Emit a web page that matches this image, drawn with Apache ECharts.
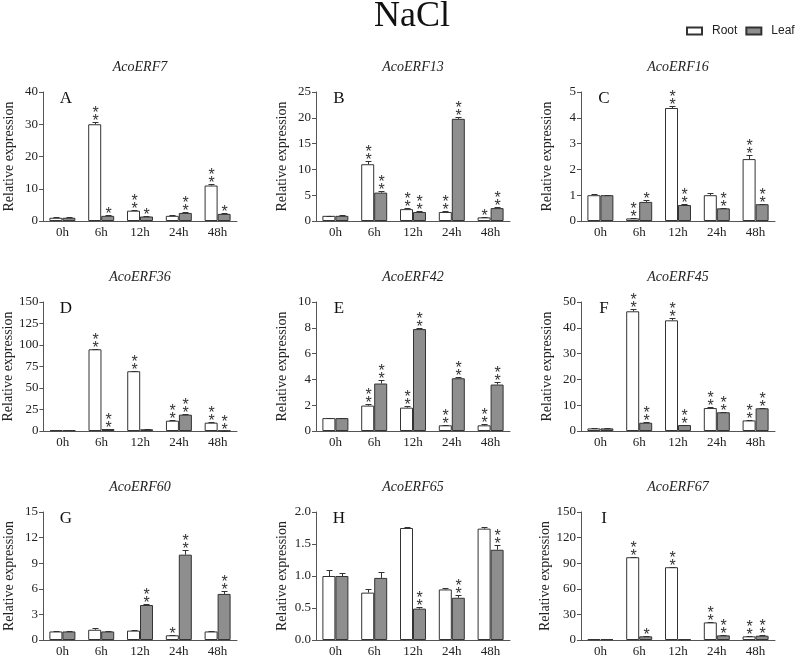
<!DOCTYPE html>
<html>
<head>
<meta charset="utf-8">
<script src="https://cdn.jsdelivr.net/npm/echarts@6/dist/echarts.min.js"></script>
<style>html,body{margin:0;padding:0;background:#fff}#c{width:798px;height:658px}</style>
</head>
<body>
<div id="c"></div>
<script>
const categories = ['0h', '6h', '12h', '24h', '48h'];
const genes = ['AcoERF7', 'AcoERF13', 'AcoERF16', 'AcoERF36', 'AcoERF42', 'AcoERF45', 'AcoERF60', 'AcoERF65', 'AcoERF67'];
const letters = ['A', 'B', 'C', 'D', 'E', 'F', 'G', 'H', 'I'];
const yMax = [40, 25, 5, 150, 10, 50, 15, 2.0, 150];
const yInterval = [10, 5, 1, 25, 2, 10, 3, 0.5, 30];

// AcoERF7
const root7 = [1.0, 30.0, 3.2, 1.6, 11.0];
const leaf7 = [1.0, 1.6, 1.4, 2.5, 2.2];
const rootErr7 = [0.1, 0.8, 0.2, 0.2, 0.6];
const leafErr7 = [0.1, 0.2, 0.1, 0.2, 0.3];
const rootSig7 = ['', '**', '**', '', '**'];
const leafSig7 = ['', '*', '*', '**', '*'];
// AcoERF13
const root13 = [1.0, 11.0, 2.3, 1.75, 0.7];
const leaf13 = [1.0, 5.5, 1.75, 19.8, 2.5];
const rootErr13 = [0.05, 0.6, 0.15, 0.1, 0.05];
const leafErr13 = [0.1, 0.4, 0.1, 0.3, 0.2];
const rootSig13 = ['', '**', '**', '**', '*'];
const leafSig13 = ['', '**', '**', '**', '**'];
// AcoERF16
const root16 = [1.0, 0.1, 4.38, 1.0, 2.4];
const leaf16 = [1.0, 0.74, 0.62, 0.49, 0.65];
const rootErr16 = [0.05, 0.02, 0.08, 0.1, 0.15];
const leafErr16 = [0.02, 0.06, 0.03, 0.03, 0.02];
const rootSig16 = ['', '**', '**', '', '**'];
const leafSig16 = ['', '*', '**', '**', '**'];
// AcoERF36
const root36 = [1.0, 95.0, 69.5, 12.0, 9.7];
const leaf36 = [1.0, 2.3, 2.0, 19.0, 0.4];
const rootErr36 = [0.3, 0.8, 0.5, 0.3, 0.2];
const leafErr36 = [0.1, 0.3, 0.2, 0.5, 0.1];
const rootSig36 = ['', '**', '**', '**', '**'];
const leafSig36 = ['', '**', '', '**', '**'];
// AcoERF42
const root42 = [1.0, 1.97, 1.81, 0.44, 0.44];
const leaf42 = [1.0, 3.68, 7.9, 4.09, 3.6];
const rootErr42 = [0.03, 0.15, 0.15, 0.03, 0.08];
const leafErr42 = [0.03, 0.3, 0.05, 0.12, 0.2];
const rootSig42 = ['', '**', '**', '**', '**'];
const leafSig42 = ['', '**', '**', '**', '**'];
// AcoERF45
const root45 = [1.0, 46.4, 42.9, 8.9, 4.1];
const leaf45 = [1.0, 3.2, 2.3, 7.25, 8.8];
const rootErr45 = [0.1, 0.8, 0.8, 0.5, 0.3];
const leafErr45 = [0.1, 0.2, 0.2, 0.2, 0.3];
const rootSig45 = ['', '**', '**', '**', '**'];
const leafSig45 = ['', '**', '**', '**', '**'];
// AcoERF60
const root60 = [1.0, 1.2, 1.1, 0.55, 1.0];
const leaf60 = [1.0, 1.0, 4.1, 10.0, 5.4];
const rootErr60 = [0.05, 0.25, 0.06, 0.08, 0.05];
const leafErr60 = [0.05, 0.05, 0.08, 0.5, 0.35];
const rootSig60 = ['', '', '', '*', ''];
const leafSig60 = ['', '', '**', '**', '**'];
// AcoERF65
const root65 = [1.0, 0.74, 1.75, 0.79, 1.74];
const leaf65 = [1.0, 0.97, 0.49, 0.66, 1.41];
const rootErr65 = [0.1, 0.06, 0.02, 0.03, 0.03];
const leafErr65 = [0.05, 0.09, 0.02, 0.04, 0.07];
const rootSig65 = ['', '', '', '', ''];
const leafSig65 = ['', '', '**', '**', '**'];
// AcoERF67
const root67 = [1.0, 97.0, 85.3, 20.6, 4.3];
const leaf67 = [1.0, 4.3, 0.8, 5.4, 5.0];
const rootErr67 = [0.3, 0.8, 0.6, 0.4, 0.3];
const leafErr67 = [0.1, 0.5, 0.2, 0.4, 0.4];
const rootSig67 = ['', '**', '**', '**', '**'];
const leafSig67 = ['', '*', '', '**', '**'];

const panels = [
  [root7, leaf7, rootErr7, leafErr7, rootSig7, leafSig7],
  [root13, leaf13, rootErr13, leafErr13, rootSig13, leafSig13],
  [root16, leaf16, rootErr16, leafErr16, rootSig16, leafSig16],
  [root36, leaf36, rootErr36, leafErr36, rootSig36, leafSig36],
  [root42, leaf42, rootErr42, leafErr42, rootSig42, leafSig42],
  [root45, leaf45, rootErr45, leafErr45, rootSig45, leafSig45],
  [root60, leaf60, rootErr60, leafErr60, rootSig60, leafSig60],
  [root65, leaf65, rootErr65, leafErr65, rootSig65, leafSig65],
  [root67, leaf67, rootErr67, leafErr67, rootSig67, leafSig67]
];

const colLeft = [43, 316, 581];
const rowTop = [92, 302, 512];
const rowH = [129, 129, 128];
const gridW = 194;
const SERIF = 'Liberation Serif';
const AXIS = '#555';
const BORDER = '#333';
const LEAF = '#8e8e8e';

const grids = [], xAxes = [], yAxes = [], series = [], graphics = [];

panels.forEach((p, k) => {
  const col = k % 3, row = Math.floor(k / 3);
  const left = colLeft[col], top = rowTop[row];
  grids.push({ left: left, top: top, width: gridW, height: rowH[row], containLabel: false });
  xAxes.push({
    gridIndex: k, type: 'category', data: categories, boundaryGap: true,
    axisLine: { lineStyle: { color: AXIS, width: 1 } },
    axisTick: { show: false },
    axisLabel: { fontFamily: SERIF, fontSize: 13, color: '#222', margin: 5 }
  });
  yAxes.push({
    gridIndex: k, type: 'value', min: 0, max: yMax[k], interval: yInterval[k],
    name: 'Relative expression', nameLocation: 'middle', nameGap: 27,
    nameTextStyle: { fontFamily: SERIF, fontSize: 14, color: '#222' },
    axisLine: { show: true, lineStyle: { color: AXIS, width: 1 } },
    axisTick: { show: true, length: 4, inside: false, lineStyle: { color: AXIS } },
    splitLine: { show: false },
    axisLabel: {
      fontFamily: SERIF, fontSize: 13, color: '#222', margin: 5,
      formatter: yMax[k] < 3 ? (v => v.toFixed(1)) : (v => String(v))
    }
  });
  const [rv, lv, re, le, rs, ls] = p;
  series.push({
    name: 'Root', type: 'bar', xAxisIndex: k, yAxisIndex: k, data: rv,
    barGap: '0%', barCategoryGap: '33%',
    itemStyle: { color: '#ffffff', borderColor: BORDER, borderWidth: 1 },
    emphasis: { disabled: true }, animation: false
  });
  series.push({
    name: 'Leaf', type: 'bar', xAxisIndex: k, yAxisIndex: k, data: lv,
    barGap: '0%', barCategoryGap: '33%',
    itemStyle: { color: LEAF, borderColor: BORDER, borderWidth: 1 },
    emphasis: { disabled: true }, animation: false
  });
  const sigs = [rs, ls];
  series.push({
    type: 'custom', xAxisIndex: k, yAxisIndex: k, z: 5, animation: false,
    data: categories.map((c, i) => [i, rv[i], re[i], lv[i], le[i]]),
    renderItem: function (params, api) {
      const i = api.value(0);
      const band = api.size([1, 0])[0];
      const bw = band * 0.67 / 2;
      const children = [];
      [[1, 2, -bw / 2, 0], [3, 4, bw / 2, 1]].forEach(([vi, ei, off, s]) => {
        const v = api.value(vi), e = api.value(ei);
        const p0 = api.coord([i, v]);
        const p1 = api.coord([i, v + e]);
        const x = Math.round(p0[0] + off) + 0.5;
        const yTop = Math.round(p1[1]) + 0.5;
        children.push({ type: 'line', shape: { x1: x, y1: p0[1], x2: x, y2: yTop }, style: { stroke: BORDER, lineWidth: 1 } });
        children.push({ type: 'line', shape: { x1: x - 3, y1: yTop, x2: x + 3, y2: yTop }, style: { stroke: BORDER, lineWidth: 1 } });
        const sg = sigs[s][i];
        if (sg) {
          children.push({
            type: 'text', x: x, y: yTop + 3,
            style: {
              text: sg.split('').join('\n'), fontFamily: 'Liberation Sans', fontSize: 16,
              lineHeight: 8, fill: '#333', align: 'center', verticalAlign: 'bottom'
            }
          });
        }
      });
      return { type: 'group', children: children };
    }
  });
  graphics.push({
    type: 'text', x: left + gridW / 2, y: top - 25,
    style: { text: genes[k], fontFamily: SERIF, fontStyle: 'italic', fontSize: 14, fill: '#222', align: 'center', verticalAlign: 'middle' }
  });
  graphics.push({
    type: 'text', x: left + 23, y: top + 7,
    style: { text: letters[k], fontFamily: SERIF, fontSize: 17, fill: '#111', align: 'center', verticalAlign: 'middle' }
  });
});

graphics.push({
  type: 'text', x: 412, y: 17,
  style: { text: 'NaCl', fontFamily: SERIF, fontSize: 36, fill: '#111', align: 'center', verticalAlign: 'middle' }
});

const chart = echarts.init(document.getElementById('c'), null, { renderer: 'canvas' });
chart.setOption({
  backgroundColor: '#ffffff',
  animation: false,
  legend: {
    data: ['Root', 'Leaf'], left: 686, top: 25, padding: 0,
    icon: 'rect', itemWidth: 15, itemHeight: 7, itemGap: 8,
    textStyle: { fontFamily: 'Liberation Sans', fontSize: 12, color: '#222', padding: [0, 0, 0, 5] },
    selectedMode: false
  },
  grid: grids,
  xAxis: xAxes,
  yAxis: yAxes,
  series: series,
  graphic: graphics
});
</script>
</body>
</html>
